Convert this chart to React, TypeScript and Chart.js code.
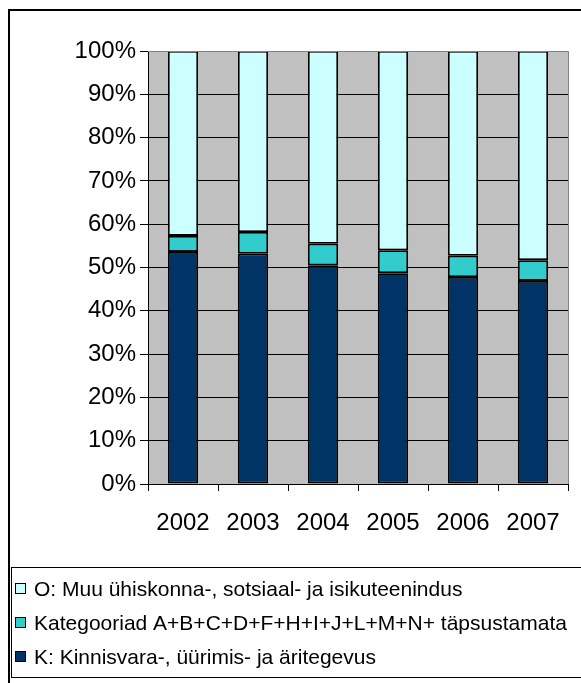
import React, { useEffect, useRef } from "react";
import { Chart, registerables } from "chart.js";

Chart.register(...registerables);

const categories = ["2002", "2003", "2004", "2005", "2006", "2007"];
const seriesK = [53.6, 53.2, 50.5, 48.7, 47.8, 46.9];
const seriesMid = [3.7, 5.0, 5.0, 5.3, 4.9, 4.8];
const seriesO = [42.7, 41.8, 44.5, 46.0, 47.3, 48.3];
const labelK = "K: Kinnisvara-, üürimis- ja äritegevus";
const labelMid = "Kategooriad A+B+C+D+F+H+I+J+L+M+N+ täpsustamata";
const labelO = "O: Muu ühiskonna-, sotsiaal- ja isikuteenindus";
const yTicks = [0, 10, 20, 30, 40, 50, 60, 70, 80, 90, 100];

const FONT = "'Liberation Sans', Arial, sans-serif";

const framePlugin = {
  id: "frame",
  beforeDraw(chart: any) {
    const { ctx, chartArea } = chart;
    ctx.save();
    ctx.fillStyle = "#ffffff";
    ctx.fillRect(0, 0, chart.width, chart.height);
    ctx.fillStyle = "#C0C0C0";
    ctx.fillRect(chartArea.left, chartArea.top, chartArea.right - chartArea.left, chartArea.bottom - chartArea.top);
    ctx.restore();
  },
  afterDraw(chart: any) {
    const { ctx, chartArea } = chart;
    ctx.save();
    ctx.strokeStyle = "#808080";
    ctx.lineWidth = 1;
    ctx.beginPath();
    ctx.moveTo(chartArea.left, chartArea.top + 0.5);
    ctx.lineTo(chartArea.right + 0.5, chartArea.top + 0.5);
    ctx.lineTo(chartArea.right + 0.5, chartArea.bottom);
    ctx.stroke();
    ctx.strokeStyle = "#000000";
    ctx.lineWidth = 2;
    ctx.beginPath();
    ctx.moveTo(9, chart.height);
    ctx.lineTo(9, 10);
    ctx.lineTo(chart.width, 10);
    ctx.stroke();
    ctx.lineWidth = 1;
    ctx.strokeRect(11.5, 567.5, chart.width, 110);
    const ds = chart.data.datasets.slice().reverse();
    const rows = [589, 623, 657];
    ctx.font = `21px ${FONT}`;
    ctx.textBaseline = "middle";
    ds.forEach((d: any, i: number) => {
      const y = rows[i];
      ctx.fillStyle = d.backgroundColor;
      ctx.fillRect(15.5, y - 5.5, 10, 10);
      ctx.strokeStyle = "#000";
      ctx.strokeRect(15.5, y - 5.5, 10, 10);
      ctx.fillStyle = "#000";
      ctx.fillText(d.label, 34, y + 1);
    });
    ctx.restore();
  },
};

export default function App() {
  const ref = useRef<HTMLCanvasElement>(null);
  useEffect(() => {
    if (!ref.current) return;
    const mk = (label: string, data: number[], color: string) => ({
      label,
      data,
      backgroundColor: color,
      borderColor: "#000000",
      borderWidth: 1.8,
      borderSkipped: false,
      barPercentage: 0.43,
      categoryPercentage: 1,
    });
    const chart = new Chart(ref.current, {
      type: "bar",
      data: {
        labels: categories,
        datasets: [
          mk(labelK, seriesK, "#003366"),
          mk(labelMid, seriesMid, "#33CCCC"),
          mk(labelO, seriesO, "#CCFFFF"),
        ],
      },
      options: {
        animation: false,
        responsive: false,
        layout: { padding: { left: 0, top: 51, right: 13, bottom: 139 } },
        plugins: { legend: { display: false }, tooltip: { enabled: false } },
        scales: {
          x: {
            stacked: true,
            afterFit(s: any) { s.height = 60; },
            grid: { drawOnChartArea: false, drawTicks: true, tickLength: 7, color: "#000", offset: true },
            border: { color: "#000", width: 1 },
            ticks: { color: "#000", font: { family: FONT, size: 24 }, padding: 18 },
          },
          y: {
            stacked: true,
            min: 0,
            max: 100,
            afterFit(s: any) { s.width = 148; },
            afterBuildTicks(s: any) { s.ticks = yTicks.map((v) => ({ value: v })); },
            grid: { color: "#000", tickLength: 8, lineWidth: 1 },
            border: { color: "#000", width: 1 },
            ticks: {
              color: "#000",
              font: { family: FONT, size: 24 },
              padding: 4,
              callback: (v: any) => v + "%",
            },
          },
        },
      },
      plugins: [framePlugin],
    });
    return () => chart.destroy();
  }, []);
  return (
    <div style={{ position: "absolute", left: 0, top: 0, width: 581, height: 683 }}>
      <canvas ref={ref} width={581} height={683} style={{ width: 581, height: 683, display: "block" }} />
    </div>
  );
}
